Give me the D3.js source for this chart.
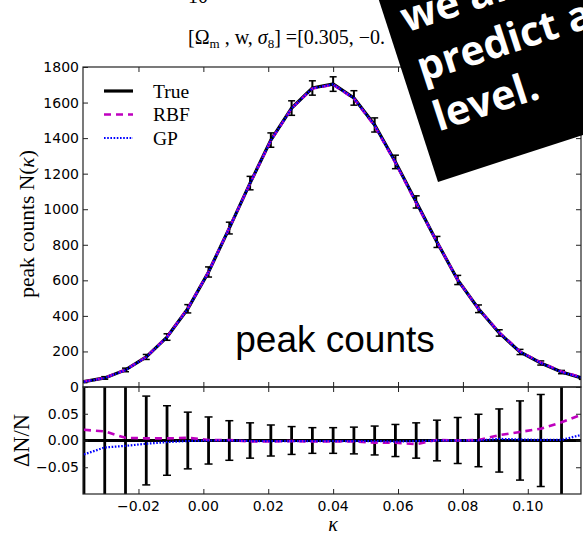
<!DOCTYPE html>
<html>
<head>
<meta charset="utf-8">
<script src="https://cdn.jsdelivr.net/npm/d3@7"></script>
<style>
  html, body { margin: 0; padding: 0; background: #fff; }
  svg { display: block; }
</style>
</head>
<body>
<svg id="chart" width="583" height="535"></svg>
<script>
// Bin centres of the convergence map histogram
const kappa = [-0.0368, -0.0304, -0.0240, -0.0176, -0.0112, -0.0048, 0.0016, 0.0080,
  0.0144, 0.0208, 0.0272, 0.0336, 0.0400, 0.0464, 0.0528, 0.0592, 0.0656, 0.0720,
  0.0784, 0.0848, 0.0912, 0.0976, 0.1040, 0.1104, 0.1168];
// True peak counts per bin
const peakTrue = [30, 51, 96, 169, 281, 440, 647, 894, 1147, 1389, 1569, 1682, 1704,
  1626, 1474, 1266, 1041, 816, 602, 440, 304, 197, 135, 84, 50];
// Relative (1-sigma) error of each bin
const relErr = [0.18, 0.14, 0.105, 0.083, 0.065, 0.053, 0.044, 0.037, 0.033, 0.029, 0.026,
  0.024, 0.024, 0.025, 0.027, 0.030, 0.033, 0.038, 0.043, 0.049, 0.059, 0.074, 0.086, 0.11, 0.14];
// Emulator residuals  (N_emu - N_true) / N_true
const rbfRel = [0.020, 0.017, 0.005, 0.004, 0.004, 0.005, 0.001, 0.001, -0.002, -0.002, -0.001,
  -0.002, -0.002, -0.002, -0.004, -0.004, -0.007, 0.001, 0.000, 0.001, 0.010, 0.016, 0.022, 0.034, 0.049];
const gpRel = [-0.026, -0.013, -0.010, -0.006, -0.003, -0.001, 0.000, 0.000, -0.001, -0.001, -0.001,
  -0.001, -0.001, -0.001, -0.001, -0.002, -0.001, 0.000, 0.000, 0.000, 0.003, 0.002, 0.001, 0.001, 0.011];

const countTicks = [0, 200, 400, 600, 800, 1000, 1200, 1400, 1600, 1800];
const residTicks = [-0.05, 0.00, 0.05];
const kappaTicks = [-0.02, 0.00, 0.02, 0.04, 0.06, 0.08, 0.10];
const seriesNames = ["True", "RBF", "GP"];
const boxLines = ["we are", "predict a", "level."];

const svg = d3.select("#chart");
const L = 83, R = 581, T1 = 67, B1 = 387, T2 = 387, B2 = 494;
const serif = "'Liberation Serif', 'DejaVu Serif', serif";
const sans = "'DejaVu Sans', sans-serif";
const MAG = "#bf00bf", BLUE = "#0000ff";

const x = d3.scaleLinear().domain([-0.0371, 0.1164]).range([L, R]);
const y1 = d3.scaleLinear().domain([0, 1800]).range([B1, T1]);
const y2 = d3.scaleLinear().domain([-0.1, 0.1]).range([B2, T2]);

const defs = svg.append("defs");
defs.append("clipPath").attr("id", "clipTop").append("rect")
  .attr("x", L).attr("y", T1).attr("width", R - L).attr("height", B1 - T1);
defs.append("clipPath").attr("id", "clipBot").append("rect")
  .attr("x", L).attr("y", T2).attr("width", R - L).attr("height", B2 - T2);

const idx = d3.range(kappa.length);
const styles = {
  True: {stroke: "#000", width: 3.2, dash: null},
  RBF: {stroke: MAG, width: 2.6, dash: "7,5"},
  GP: {stroke: BLUE, width: 2.2, dash: "1.6,1.6"}
};

// ---------- upper panel: peak counts ----------
const gTop = svg.append("g").attr("clip-path", "url(#clipTop)");
const lineTop = (vals) => d3.line().x(i => x(kappa[i])).y(i => y1(vals[i]))(idx);
const rbfAbs = peakTrue.map((v, i) => v * (1 + rbfRel[i]));
const gpAbs = peakTrue.map((v, i) => v * (1 + gpRel[i]));

gTop.append("path").attr("d", lineTop(peakTrue)).attr("fill", "none")
  .attr("stroke", "#000").attr("stroke-width", styles.True.width);
// error bars on the true counts
idx.forEach(i => {
  const xc = x(kappa[i]), lo = y1(peakTrue[i] * (1 - relErr[i])), hi = y1(peakTrue[i] * (1 + relErr[i]));
  gTop.append("line").attr("x1", xc).attr("x2", xc).attr("y1", lo).attr("y2", hi)
    .attr("stroke", "#000").attr("stroke-width", 2);
  [lo, hi].forEach(yy => gTop.append("line").attr("x1", xc - 3.5).attr("x2", xc + 3.5)
    .attr("y1", yy).attr("y2", yy).attr("stroke", "#000").attr("stroke-width", 1.5));
});
gTop.append("path").attr("d", lineTop(rbfAbs)).attr("fill", "none")
  .attr("stroke", MAG).attr("stroke-width", styles.RBF.width).attr("stroke-dasharray", styles.RBF.dash);
gTop.append("path").attr("d", lineTop(gpAbs)).attr("fill", "none")
  .attr("stroke", BLUE).attr("stroke-width", styles.GP.width).attr("stroke-dasharray", styles.GP.dash);

// panel annotation
svg.append("text").attr("x", 335).attr("y", 352).attr("text-anchor", "middle")
  .attr("font-family", "'Liberation Sans', Arial, sans-serif").attr("font-size", 37)
  .attr("fill", "#000").text("peak counts");

// ---------- lower panel: residuals ----------
const gBot = svg.append("g").attr("clip-path", "url(#clipBot)");
const lineBot = (vals) => d3.line().x(i => x(kappa[i])).y(i => y2(vals[i]))(idx);
gBot.append("path").attr("d", lineBot(kappa.map(() => 0))).attr("fill", "none")
  .attr("stroke", "#000").attr("stroke-width", 3);
idx.forEach(i => {
  const xc = x(kappa[i]), lo = y2(-relErr[i]), hi = y2(relErr[i]);
  gBot.append("line").attr("x1", xc).attr("x2", xc).attr("y1", lo).attr("y2", hi)
    .attr("stroke", "#000").attr("stroke-width", 2.8);
  [lo, hi].forEach(yy => gBot.append("line").attr("x1", xc - 4).attr("x2", xc + 4)
    .attr("y1", yy).attr("y2", yy).attr("stroke", "#000").attr("stroke-width", 1.5));
});
gBot.append("path").attr("d", lineBot(rbfRel)).attr("fill", "none")
  .attr("stroke", MAG).attr("stroke-width", styles.RBF.width).attr("stroke-dasharray", styles.RBF.dash);
gBot.append("path").attr("d", lineBot(gpRel)).attr("fill", "none")
  .attr("stroke", BLUE).attr("stroke-width", styles.GP.width).attr("stroke-dasharray", styles.GP.dash);

// ---------- axes ----------
function frame(yScale, yT, yB, yTickVals, yFmt) {
  const g = svg.append("g");
  const axL = d3.axisLeft(yScale).tickValues(yTickVals).tickSize(-5).tickPadding(4).tickFormat(yFmt);
  const axR = d3.axisRight(yScale).tickValues(yTickVals).tickSize(-5).tickFormat("");
  const axT = d3.axisTop(x).tickValues(kappaTicks).tickSize(-5).tickFormat("");
  const axB = d3.axisBottom(x).tickValues(kappaTicks).tickSize(-5).tickFormat("");
  g.append("g").attr("transform", `translate(${L},0)`).call(axL);
  g.append("g").attr("transform", `translate(${R},0)`).call(axR);
  g.append("g").attr("transform", `translate(0,${yT})`).call(axT);
  g.append("g").attr("transform", `translate(0,${yB})`).call(axB);
  g.selectAll(".domain").remove();
  g.selectAll(".tick line").attr("stroke", "#222").attr("stroke-width", 1);
  g.selectAll(".tick text").attr("font-family", sans).attr("font-size", 14).attr("fill", "#000");
  g.append("rect").attr("x", L).attr("y", yT).attr("width", R - L).attr("height", yB - yT)
    .attr("fill", "none").attr("stroke", "#222").attr("stroke-width", 1.2);
  return g;
}
frame(y1, T1, B1, countTicks, d3.format("d"));
const minus = s => s.replace("-", "\u2212");
frame(y2, T2, B2, residTicks, d => minus(d3.format(".2f")(d)));

// x tick labels below lower panel
svg.append("g").selectAll("text").data(kappaTicks).join("text")
  .attr("x", d => x(d)).attr("y", 510.5).attr("text-anchor", "middle")
  .attr("font-family", sans).attr("font-size", 14).attr("fill", "#000")
  .text(d => minus(d3.format(".2f")(d)));

// axis titles
svg.append("text").attr("x", x(0.04)).attr("y", 531).attr("text-anchor", "middle")
  .attr("font-family", serif).attr("font-size", 20).attr("font-style", "italic").text("\u03BA");
const yl = svg.append("text").attr("transform", `translate(34,${(T1 + B1) / 2 - 3}) rotate(-90)`)
  .attr("text-anchor", "middle").attr("font-family", serif).attr("font-size", 21.5);
yl.append("tspan").text("peak counts N(");
yl.append("tspan").attr("font-style", "italic").text("\u03BA");
yl.append("tspan").text(")");
svg.append("text").attr("transform", `translate(29,${(T2 + B2) / 2}) rotate(-90)`)
  .attr("text-anchor", "middle").attr("font-family", serif).attr("font-size", 22.5)
  .text("\u0394N/N");

// legend
const leg = svg.append("g");
seriesNames.forEach((name, k) => {
  const yy = 91 + k * 23.5, st = styles[name];
  leg.append("line").attr("x1", 104).attr("x2", 133).attr("y1", yy).attr("y2", yy)
    .attr("stroke", st.stroke).attr("stroke-width", st.width)
    .attr("stroke-dasharray", st.dash);
  leg.append("text").attr("x", 153).attr("y", yy + 6.5).attr("font-family", serif)
    .attr("font-size", 19.5).text(name);
});

// title
svg.append("text").attr("x", 188).attr("y", 3).attr("font-family", serif).attr("font-size", 20).text("10");
const title = svg.append("text").attr("x", 188).attr("y", 44).attr("font-family", serif).attr("font-size", 20);
title.append("tspan").text("[\u03A9");
title.append("tspan").attr("font-size", 13).attr("dy", 4).text("m");
title.append("tspan").attr("dy", -4).text(" , w, ");
title.append("tspan").attr("font-style", "italic").text("\u03C3");
title.append("tspan").attr("font-size", 13).attr("dy", 4).text("8");
title.append("tspan").attr("dy", -4).text("] =[0.305, \u22120.");

// rotated caption box
const box = svg.append("g").attr("transform", "translate(438,182) rotate(-18)");
box.append("rect").attr("x", 0).attr("y", -420).attr("width", 700).attr("height", 420).attr("fill", "#000");
boxLines.forEach((t, k) => {
  box.append("text").attr("x", 16).attr("y", -48 - (boxLines.length - 1 - k) * 52)
    .attr("font-family", "'Open Sans', sans-serif").attr("font-weight", 700)
    .attr("font-size", 41).attr("fill", "#fff").text(t);
});
</script>
</body>
</html>
